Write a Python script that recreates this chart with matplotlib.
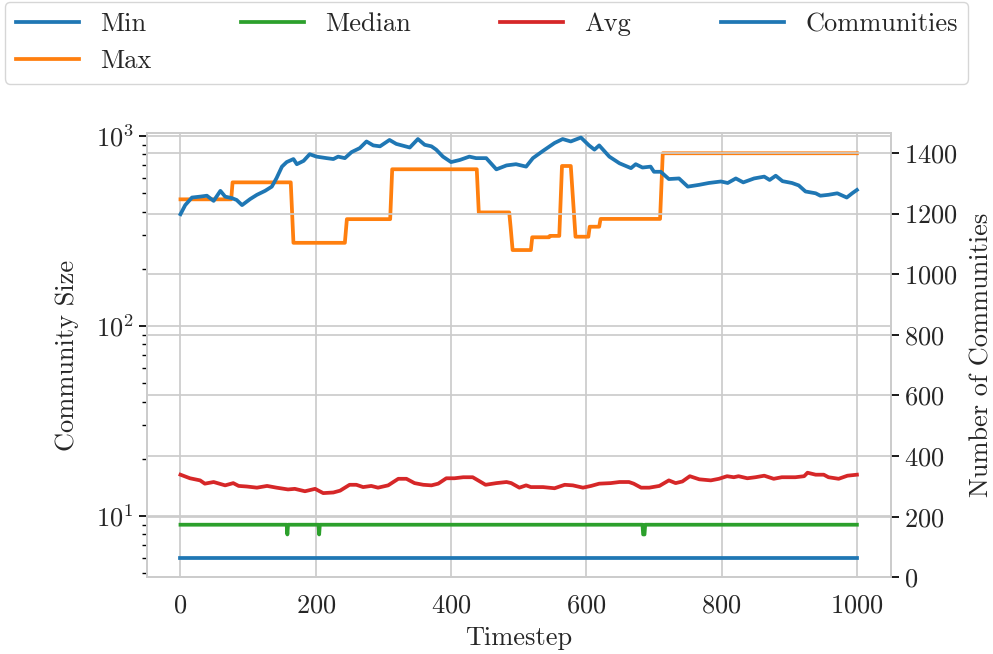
import matplotlib
matplotlib.use("Agg")
import matplotlib.pyplot as plt
from matplotlib.ticker import MultipleLocator

plt.rcParams.update({
    "font.family": "serif",
    "font.serif": ["cmr10", "DejaVu Serif"],
    "mathtext.fontset": "cm",
    "axes.formatter.use_mathtext": True,
    "axes.unicode_minus": False,
    "font.size": 19,
    "axes.edgecolor": "#cccccc",
    "axes.linewidth": 1.25,
    "grid.color": "#cccccc",
    "grid.linewidth": 1.25,
    "text.color": ".15",
    "axes.labelcolor": ".15",
    "xtick.color": ".15",
    "ytick.color": ".15",
})

# ---- data ----
min_t = [0, 1000]
min_v = [6, 6]

median_t = [0, 157, 158, 159, 204, 205, 206, 683, 684, 686, 687, 1000]
median_v = [9, 9, 8, 9, 9, 8, 9, 9, 8, 8, 9, 9]

avg_t = [0, 14, 29, 36, 49, 66, 78, 86, 98, 113, 128, 142, 159, 169, 184, 199,
         211, 226, 236, 250, 260, 270, 282, 292, 307, 322, 334, 346, 359, 371,
         381, 393, 405, 418, 432, 440, 451, 467, 482, 489, 501, 511, 518, 536,
         553, 568, 580, 595, 607, 619, 636, 649, 663, 670, 681, 693, 708, 722,
         732, 742, 753, 767, 784, 796, 808, 818, 825, 838, 850, 863, 877, 889,
         909, 922, 927, 939, 951, 958, 973, 986, 1000]
avg_v = [16.5, 15.8, 15.4, 14.8, 15.1, 14.5, 14.9, 14.4, 14.3, 14.1, 14.4, 14.1,
         13.8, 13.9, 13.5, 13.9, 13.2, 13.3, 13.6, 14.6, 14.6, 14.2, 14.4, 14.1,
         14.5, 15.7, 15.7, 14.9, 14.6, 14.5, 14.8, 15.8, 15.8, 16.0, 16.0, 15.4,
         14.6, 14.9, 15.1, 14.9, 14.1, 14.5, 14.2, 14.2, 14.0, 14.6, 14.5, 14.1,
         14.4, 14.8, 14.9, 15.1, 15.1, 14.8, 14.1, 14.1, 14.4, 15.4, 14.9, 15.2,
         16.2, 15.6, 15.4, 15.7, 16.2, 16.0, 16.2, 15.8, 16.0, 16.3, 15.7, 16.0,
         16.0, 16.2, 16.9, 16.5, 16.5, 16.0, 15.7, 16.3, 16.5]

max_t = [0, 75, 77, 163, 167, 243, 246, 310, 313, 438, 441, 486, 488, 491, 518,
         520, 545, 546, 560, 564, 577, 584, 603, 605, 619, 621, 709, 713, 1000]
max_v = [464, 464, 570, 570, 274, 274, 365, 365, 668, 668, 396, 396, 333, 251,
         251, 293, 293, 298, 298, 695, 695, 295, 295, 333, 333, 366, 366, 811, 811]

comm_t = [0, 7, 17, 29, 39, 49, 59, 66, 76, 83, 91, 103, 113, 125, 135, 142, 150,
          157, 167, 172, 182, 191, 201, 216, 226, 233, 243, 253, 265, 275, 285,
          295, 309, 319, 324, 339, 351, 361, 371, 378, 388, 400, 413, 427, 437,
          452, 467, 482, 496, 511, 521, 536, 553, 565, 577, 592, 604, 612, 619,
          634, 649, 666, 673, 683, 695, 700, 710, 722, 737, 750, 767, 781, 799,
          809, 821, 832, 848, 863, 871, 880, 890, 904, 914, 924, 939, 946, 958,
          971, 985, 993, 1000]
comm_v = [1198, 1228, 1253, 1256, 1259, 1242, 1275, 1256, 1251, 1245, 1228, 1248,
          1262, 1275, 1289, 1317, 1355, 1370, 1380, 1363, 1374, 1396, 1388, 1383,
          1380, 1388, 1383, 1403, 1416, 1438, 1425, 1422, 1443, 1430, 1427, 1418,
          1446, 1427, 1422, 1411, 1388, 1370, 1377, 1388, 1383, 1383, 1346, 1359,
          1363, 1355, 1383, 1407, 1433, 1446, 1438, 1451, 1425, 1411, 1425, 1388,
          1366, 1350, 1363, 1352, 1355, 1338, 1338, 1314, 1316, 1289, 1295, 1301,
          1306, 1301, 1316, 1303, 1316, 1322, 1311, 1325, 1307, 1301, 1293, 1273,
          1267, 1259, 1262, 1267, 1253, 1267, 1278]

x_ticks = [0, 200, 400, 600, 800, 1000]

# ---- figure ----
fig = plt.figure(figsize=(9.93, 6.54), dpi=100)
ax = fig.add_axes([0.1477, 0.1173, 0.897 - 0.1477, 0.7962 - 0.1173])
ax2 = ax.twinx()

lw = 2.7
l_min, = ax.plot(min_t, min_v, color="#1f77b4", lw=lw, label="Min")
l_max, = ax.plot(max_t, max_v, color="#ff7f0e", lw=lw, label="Max")
l_med, = ax.plot(median_t, median_v, color="#2ca02c", lw=lw, label="Median")
l_avg, = ax.plot(avg_t, avg_v, color="#d62728", lw=lw, label="Avg")
l_com, = ax2.plot(comm_t, comm_v, color="#1f77b4", lw=lw, label="Communities")

ax.set_yscale("log")
ax.set_ylim(4.76, 1033)
ax.set_xlim(-50, 1050)
ax.set_xticks(x_ticks)
ax2.set_ylim(0, 1465)
ax2.yaxis.set_major_locator(MultipleLocator(200))

ax.grid(True, which="major", axis="both")
ax.grid(False, which="minor")
ax2.grid(True, axis="y")
ax2.grid(False, axis="x")

ax.tick_params(axis="x", length=0, pad=12)
ax.tick_params(axis="y", which="major", left=True, length=6, width=1.25, color="black")
ax.tick_params(axis="y", which="minor", left=True, length=3.5, width=1.0, color="black")
ax2.tick_params(axis="y", right=True, length=6, width=1.25, color="black")

for a in (ax, ax2):
    for s in a.spines.values():
        s.set_color("#cccccc")

ax.set_xlabel("Timestep", labelpad=6)
ax.set_ylabel("Community Size", labelpad=12)
ax2.set_ylabel("Number of Communities", labelpad=9)

fig.legend([l_min, l_max, l_med, l_avg, l_com],
           ["Min", "Max", "Median", "Avg", "Communities"],
           loc="upper left", bbox_to_anchor=(0.005, 0.0, 0.97, 0.997),
           mode="expand", ncol=4, frameon=True, edgecolor="#cccccc",
           handlelength=2.4, borderaxespad=0.0)

fig.savefig("out.png", dpi=100)
